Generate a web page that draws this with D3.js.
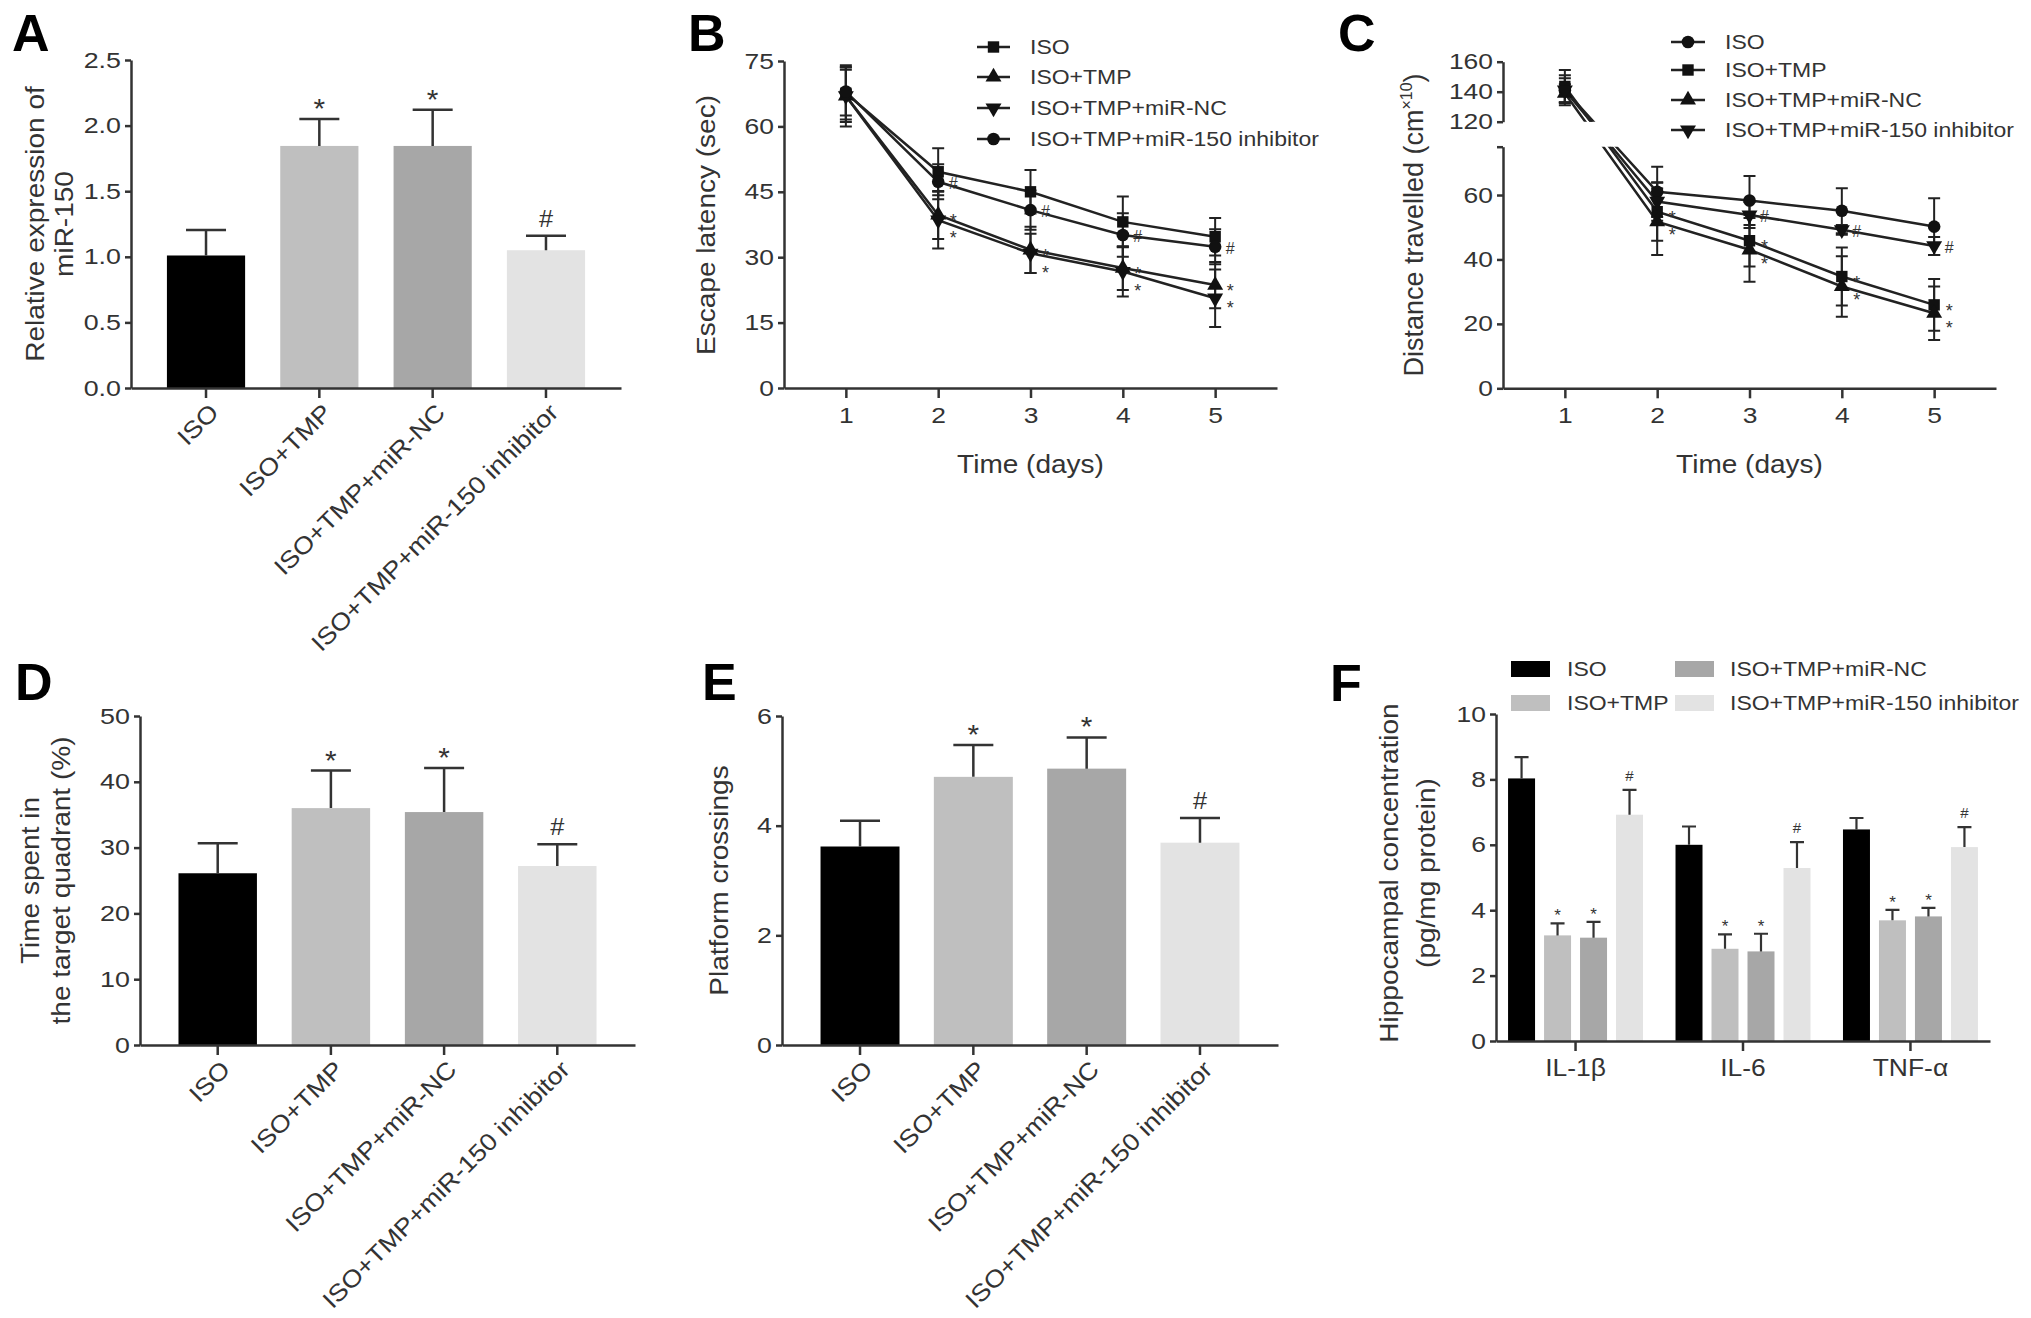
<!DOCTYPE html>
<html lang="en">
<head>
<meta charset="UTF-8">
<title>miR-150 / TMP figure</title>
<style>
  body { margin: 0; background: #fff; }
  svg { display: block; }
  text { font-family: "Liberation Sans", Arial, sans-serif; fill: #333; }
  .panel-label { font-weight: bold; fill: #000; font-size: 52px; }
</style>
</head>
<body>
<svg id="fig" width="2031" height="1318"></svg>
<script src="https://cdn.jsdelivr.net/npm/d3@7"></script>
<script>
// ---- data ----
const groups = ["ISO", "ISO+TMP", "ISO+TMP+miR-NC", "ISO+TMP+miR-150 inhibitor"];
const barColors = ["#000000", "#bfbfbf", "#a7a7a7", "#e3e3e3"];
const barSig = ["", "*", "*", "#"];

// A: relative expression of miR-150
const mirMean = [1.01, 1.845, 1.845, 1.05];
const mirErr = [0.195, 0.205, 0.275, 0.11];
const mirTicks = [0, 0.5, 1.0, 1.5, 2.0, 2.5];

// B: escape latency (sec)
const days = [1, 2, 3, 4, 5];
const latIso = [67.6, 49.6, 45.0, 38.1, 34.7];
const latIsoErr = [6.0, 5.4, 5.0, 5.8, 4.3];
const latTmp = [67.0, 39.7, 31.7, 27.5, 23.6];
const latTmpErr = [6.0, 5.5, 5.3, 5.0, 5.3];
const latNc = [67.0, 38.5, 30.9, 26.7, 20.6];
const latNcErr = [7.0, 6.5, 4.5, 5.7, 6.6];
const latInh = [68.0, 47.3, 40.8, 35.1, 32.4];
const latInhErr = [5.5, 4.0, 4.5, 5.0, 4.0];
const latTicks = [0, 15, 30, 45, 60, 75];

// C: distance travelled (cm x10), broken axis
const distIso = [141, 61.0, 58.3, 55.1, 50.2];
const distIsoErr = [10, 7.8, 7.6, 7.0, 8.8];
const distTmp = [143.5, 54.8, 45.8, 34.7, 25.9];
const distTmpErr = [11, 9.0, 8.0, 9.0, 8.0];
const distNc = [139, 51.7, 43.0, 31.6, 23.3];
const distNcErr = [6, 10.3, 9.9, 9.4, 8.3];
const distInh = [141, 58.0, 53.8, 49.2, 44.2];
const distInhErr = [8, 6.0, 4.0, 1.5, 2.8];
const distTicksUpper = [120, 140, 160];
const distTicksLower = [0, 20, 40, 60];

const sigNone = ["", "", "", "", ""];
const sigStar = ["", "*", "*", "*", "*"];
const sigHashB = ["", "#", "#", "#", "#"];
const sigHashC = ["", "", "#", "#", "#"];

// D: time in target quadrant (%)
const quadMean = [26.1, 36.0, 35.4, 27.2];
const quadErr = [4.55, 5.7, 6.7, 3.3];
const quadTicks = [0, 10, 20, 30, 40, 50];

// E: platform crossings
const crossMean = [3.62, 4.89, 5.04, 3.69];
const crossErr = [0.47, 0.58, 0.57, 0.45];
const crossTicks = [0, 2, 4, 6];

// F: hippocampal cytokines (pg/mg protein)
const cytokines = ["IL-1\u03b2", "IL-6", "TNF-\u03b1"];
const cytIso = [8.03, 6.00, 6.47];
const cytIsoErr = [0.65, 0.56, 0.35];
const cytTmp = [3.23, 2.82, 3.69];
const cytTmpErr = [0.37, 0.44, 0.32];
const cytNc = [3.16, 2.74, 3.81];
const cytNcErr = [0.48, 0.54, 0.26];
const cytInh = [6.92, 5.29, 5.93];
const cytInhErr = [0.76, 0.79, 0.61];
const cytTicks = [0, 2, 4, 6, 8, 10];

// ---- drawing ----
const svg = d3.select("#fig");
svg.append("rect").attr("width", 2031).attr("height", 1318).attr("fill", "#fff");
const INK = "#333";

// the figure's lettering is a little wider than Arial, so stretch it along the baseline
function widen(sel, k) {
  sel.each(function () {
    const w = this.getComputedTextLength();
    if (w > 0) {
      this.setAttribute("textLength", (w * k).toFixed(1));
      this.setAttribute("lengthAdjust", "spacingAndGlyphs");
    }
  });
}

function styleAxis(g, fs, k) {
  g.attr("font-family", null).attr("font-size", null).attr("color", INK);
  g.selectAll("path.domain").attr("stroke-width", 2.5);
  g.selectAll(".tick line").attr("stroke-width", 2.5);
  const t = g.selectAll("text").attr("font-size", fs);
  widen(t, k);
}

function panelLabel(txt, x, y) {
  svg.append("text").attr("class", "panel-label").attr("x", x).attr("y", y).text(txt);
}

function yTitle(lines, xs, cy, fs) {
  lines.forEach((ln, i) => {
    const t = svg.append("text")
      .attr("transform", `translate(${xs[i]},${cy}) rotate(-90)`)
      .attr("text-anchor", "middle").attr("font-size", fs).text(ln);
    widen(t, 1.12);
  });
}

function mark(g, x, y, txt, fs) {
  const t = g.append("text").attr("x", x).attr("y", y)
    .attr("text-anchor", "middle").attr("font-size", fs).text(txt);
  return t;
}

// bar chart with rotated category labels (A, D, E)
function barPanel(o) {
  const g = svg.append("g");
  const x = d3.scaleBand().domain(groups).range([o.left, o.right])
    .paddingInner(o.pi).paddingOuter(o.po);
  const y = d3.scaleLinear().domain([o.ticks[0], o.ticks[o.ticks.length - 1]]).range([o.bottom, o.top]);
  const cx = i => x(groups[i]) + x.bandwidth() / 2;

  g.selectAll("rect.bar").data(o.means).join("rect").attr("class", "bar")
    .attr("x", (d, i) => x(groups[i])).attr("width", x.bandwidth())
    .attr("y", d => y(d)).attr("height", d => y(0) - y(d))
    .attr("fill", (d, i) => barColors[i]);

  g.selectAll("path.err").data(o.means).join("path").attr("class", "err")
    .attr("d", (d, i) => {
      const top = y(d + o.errs[i]);
      return `M${cx(i)},${y(d)}V${top}M${cx(i) - 20},${top}H${cx(i) + 20}`;
    })
    .attr("fill", "none").attr("stroke", INK).attr("stroke-width", 2.5);

  o.means.forEach((d, i) => {
    const s = barSig[i];
    if (!s) return;
    const top = y(d + o.errs[i]);
    const t = mark(g, cx(i), s === "*" ? top - 1 : top - 9, s, s === "*" ? 27 : 23);
    widen(t, 1.1);
  });

  const ya = g.append("g").attr("transform", `translate(${o.left},0)`)
    .call(d3.axisLeft(y).tickValues(o.ticks).tickFormat(o.fmt).tickSize(6).tickPadding(4).tickSizeOuter(0));
  styleAxis(ya, 22, 1.22);

  const xa = g.append("g").attr("transform", `translate(0,${o.bottom})`)
    .call(d3.axisBottom(x).tickSize(10).tickSizeOuter(0).tickFormat(""));
  styleAxis(xa, 22, 1);

  groups.forEach((name, i) => {
    const t = g.append("text")
      .attr("transform", `translate(${cx(i) + 8},${o.bottom + 20}) rotate(-45)`)
      .attr("text-anchor", "end").attr("dy", "0.35em").attr("font-size", 24).text(name);
    widen(t, 1.12);
  });

  yTitle(o.title, o.titleX, (o.top + o.bottom) / 2, 25);
}

function symbolPath(shape) {
  if (shape === "square") return d3.symbol(d3.symbolSquare, 130)();
  if (shape === "circle") return d3.symbol(d3.symbolCircle, 125)();
  return d3.symbol(d3.symbolTriangle, 110)();
}
function symbolTransform(shape, px, py) {
  return shape === "triangleDown" ? `translate(${px},${py}) rotate(180)` : `translate(${px},${py})`;
}

// line chart over days (B, C)
function linePanel(o) {
  const g = svg.append("g");
  const x = d3.scaleLinear().domain([0.33, 5.67]).range([o.left, o.right]);
  const y = o.y;
  const clipId = "clip" + o.id;
  const clip = svg.append("clipPath").attr("id", clipId);
  o.zones.forEach(z => clip.append("rect").attr("x", o.left - 20).attr("y", z[0])
    .attr("width", o.right - o.left + 40).attr("height", z[1] - z[0]));
  const plot = g.append("g").attr("clip-path", `url(#${clipId})`);

  const line = d3.line().x((d, i) => x(days[i])).y(d => y(d));

  o.series.forEach(s => {
    plot.append("path").attr("d", line(s.mean))
      .attr("fill", "none").attr("stroke", "#222").attr("stroke-width", 2.5);
    plot.append("path")
      .attr("d", s.mean.map((m, i) => {
        const px = x(days[i]), a = y(m + s.err[i]), b = y(m - s.err[i]);
        return `M${px},${a}V${b}M${px - 6},${a}H${px + 6}M${px - 6},${b}H${px + 6}`;
      }).join(""))
      .attr("fill", "none").attr("stroke", "#222").attr("stroke-width", 2);
  });
  o.series.forEach(s => {
    s.mean.forEach((m, i) => {
      plot.append("path").attr("d", symbolPath(s.shape))
        .attr("transform", symbolTransform(s.shape, x(days[i]), y(m))).attr("fill", "#111");
    });
  });

  // significance marks, nudged apart where they collide
  days.forEach((dd, i) => {
    const marks = o.series.filter(s => s.sig[i]).map(s => ({ t: s.sig[i], y: y(s.mean[i]) + 7 }))
      .sort((a, b) => a.y - b.y);
    for (let k = 1; k < marks.length; k++) {
      if (marks[k].y - marks[k - 1].y < 17) marks[k].y = marks[k - 1].y + 17;
    }
    marks.forEach(mk => mark(g, x(dd) + 15, mk.y + (mk.t === "*" ? 5 : 0), mk.t, mk.t === "*" ? 18 : 16));
  });

  o.axes(g);

  const xa = g.append("g").attr("transform", `translate(0,${o.bottom})`)
    .call(d3.axisBottom(x).tickValues(days).tickFormat(d3.format("d")).tickSize(10).tickPadding(9).tickSizeOuter(0));
  styleAxis(xa, 22, 1.2);

  const xt = g.append("text").attr("x", x(3)).attr("y", o.bottom + 85)
    .attr("text-anchor", "middle").attr("font-size", 25).text("Time (days)");
  widen(xt, 1.12);

  // legend
  o.series.forEach((s, i) => {
    const ly = o.legY[i];
    g.append("line").attr("x1", o.legX[0]).attr("x2", o.legX[1]).attr("y1", ly).attr("y2", ly)
      .attr("stroke", "#222").attr("stroke-width", 2.5);
    g.append("path").attr("d", symbolPath(s.shape))
      .attr("transform", symbolTransform(s.shape, (o.legX[0] + o.legX[1]) / 2, ly)).attr("fill", "#111");
    const t = g.append("text").attr("x", o.legX[2]).attr("y", ly).attr("dy", "0.36em")
      .attr("font-size", 20).text(s.name);
    widen(t, 1.15);
  });
}

// ---------- A ----------
panelLabel("A", 12, 51);
barPanel({
  left: 131, right: 621, top: 60, bottom: 388, pi: 0.31, po: 0.317,
  ticks: mirTicks, fmt: d3.format(".1f"), means: mirMean, errs: mirErr,
  title: ["Relative expression of", "miR-150"], titleX: [44, 73]
});

// ---------- B ----------
panelLabel("B", 688, 51);
{
  const yB = d3.scaleLinear().domain([0, 75]).range([388, 61]);
  linePanel({
    id: "B", left: 784, right: 1277, bottom: 388, y: yB, zones: [[0, 400]],
    series: [
      { name: groups[0], mean: latIso, err: latIsoErr, sig: sigNone, shape: "square" },
      { name: groups[1], mean: latTmp, err: latTmpErr, sig: sigStar, shape: "triangle" },
      { name: groups[2], mean: latNc, err: latNcErr, sig: sigStar, shape: "triangleDown" },
      { name: groups[3], mean: latInh, err: latInhErr, sig: sigHashB, shape: "circle" }
    ],
    legX: [977, 1010, 1030], legY: [47, 77, 108, 139],
    axes: g => {
      const ya = g.append("g").attr("transform", "translate(784,0)")
        .call(d3.axisLeft(yB).tickValues(latTicks).tickSize(6).tickPadding(4).tickSizeOuter(0));
      styleAxis(ya, 22, 1.2);
    }
  });
  yTitle(["Escape latency (sec)"], [715], 225, 25);
}

// ---------- C ----------
panelLabel("C", 1338, 51);
{
  const yUp = d3.scaleLinear().domain([120, 160]).range([121.7, 61.7]);
  const yLow = d3.scaleLinear().domain([0, 75]).range([388.3, 146.7]);
  const yC = v => (v >= 100 ? yUp(v) : yLow(v));
  linePanel({
    id: "C", left: 1503, right: 1996, bottom: 388.3, y: yC,
    zones: [[0, yUp(120)], [yLow(75), 400]],
    series: [
      { name: groups[0], mean: distIso, err: distIsoErr, sig: sigNone, shape: "circle" },
      { name: groups[1], mean: distTmp, err: distTmpErr, sig: sigStar, shape: "square" },
      { name: groups[2], mean: distNc, err: distNcErr, sig: sigStar, shape: "triangle" },
      { name: groups[3], mean: distInh, err: distInhErr, sig: sigHashC, shape: "triangleDown" }
    ],
    legX: [1671, 1705, 1725], legY: [42, 70, 100, 130],
    axes: g => {
      const up = g.append("g").attr("transform", "translate(1503,0)")
        .call(d3.axisLeft(yUp).tickValues(distTicksUpper).tickSize(6).tickPadding(4).tickSizeOuter(0));
      styleAxis(up, 22, 1.2);
      const low = g.append("g").attr("transform", "translate(1503,0)")
        .call(d3.axisLeft(yLow).tickValues(distTicksLower.concat([75]))
          .tickFormat(v => (distTicksLower.includes(v) ? v : "")).tickSize(6).tickPadding(4).tickSizeOuter(0));
      styleAxis(low, 22, 1.2);
    }
  });
  const t = svg.append("text").attr("transform", "translate(1423,225) rotate(-90)")
    .attr("text-anchor", "middle").attr("font-size", 27);
  t.append("tspan").text("Distance travelled (cm");
  t.append("tspan").attr("dy", -11).attr("font-size", 16).text("\u00d710");
  t.append("tspan").attr("dy", 11).text(")");
}

// ---------- D ----------
panelLabel("D", 15, 700);
barPanel({
  left: 140, right: 635, top: 716, bottom: 1045, pi: 0.307, po: 0.34,
  ticks: quadTicks, fmt: d3.format("d"), means: quadMean, errs: quadErr,
  title: ["Time spent in", "the target quadrant (%)"], titleX: [39, 70]
});

// ---------- E ----------
panelLabel("E", 702, 700);
barPanel({
  left: 782, right: 1278, top: 716, bottom: 1045, pi: 0.303, po: 0.34,
  ticks: crossTicks, fmt: d3.format("d"), means: crossMean, errs: crossErr,
  title: ["Platform crossings"], titleX: [728]
});

// ---------- F ----------
panelLabel("F", 1330, 701);
{
  const g = svg.append("g");
  const left = 1496, right = 1990, top = 714, bottom = 1041;
  const xg = d3.scaleBand().domain(cytokines).range([left, right]).paddingInner(0.194).paddingOuter(0.072);
  const xi = d3.scaleBand().domain(groups).range([0, xg.bandwidth()]).paddingInner(0.25);
  const y = d3.scaleLinear().domain([0, 10]).range([bottom, top]);
  const means = [cytIso, cytTmp, cytNc, cytInh];
  const errs = [cytIsoErr, cytTmpErr, cytNcErr, cytInhErr];

  cytokines.forEach((c, ci) => {
    groups.forEach((gr, gi) => {
      const v = means[gi][ci], e = errs[gi][ci];
      const bx = xg(c) + xi(gr), cx = bx + xi.bandwidth() / 2;
      g.append("rect").attr("x", bx).attr("width", xi.bandwidth())
        .attr("y", y(v)).attr("height", y(0) - y(v)).attr("fill", barColors[gi]);
      g.append("path").attr("d", `M${cx},${y(v)}V${y(v + e)}M${cx - 7},${y(v + e)}H${cx + 7}`)
        .attr("fill", "none").attr("stroke", INK).attr("stroke-width", 2.2);
      const s = barSig[gi];
      if (s) mark(g, cx, s === "*" ? y(v + e) - 2 : y(v + e) - 9, s, s === "*" ? 17 : 15);
    });
  });

  const ya = g.append("g").attr("transform", `translate(${left},0)`)
    .call(d3.axisLeft(y).tickValues(cytTicks).tickSize(6).tickPadding(4).tickSizeOuter(0));
  styleAxis(ya, 22, 1.2);
  const xa = g.append("g").attr("transform", `translate(0,${bottom})`)
    .call(d3.axisBottom(xg).tickSize(10).tickPadding(9).tickSizeOuter(0));
  styleAxis(xa, 23, 1.15);

  // legend, two columns
  const legCols = [[1511, 1567], [1675, 1730]];
  const legRows = [669, 703];
  groups.forEach((gr, gi) => {
    const col = legCols[Math.floor(gi / 2)], ry = legRows[gi % 2];
    g.append("rect").attr("x", col[0]).attr("y", ry - 8).attr("width", 39).attr("height", 16)
      .attr("fill", barColors[gi]);
    const t = g.append("text").attr("x", col[1]).attr("y", ry).attr("dy", "0.36em")
      .attr("font-size", 20).text(gr);
    widen(t, 1.15);
  });

  yTitle(["Hippocampal concentration", "(pg/mg protein)"], [1398, 1435], 873, 25);
}
</script>
</body>
</html>
